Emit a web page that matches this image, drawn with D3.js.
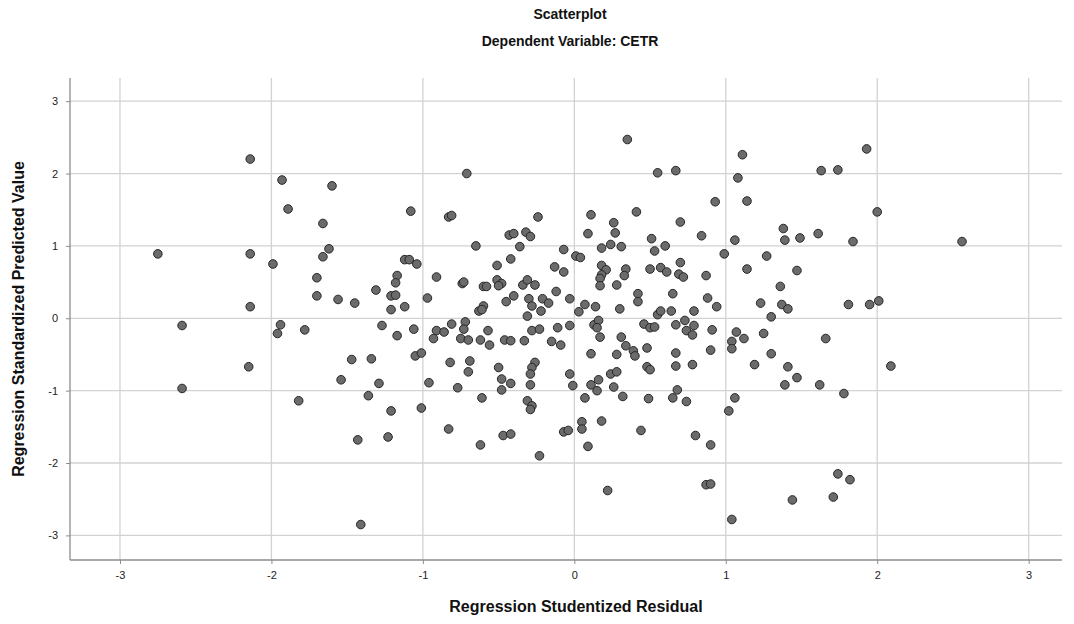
<!DOCTYPE html>
<html>
<head>
<meta charset="utf-8">
<script src="https://cdn.jsdelivr.net/npm/d3@7"></script>
<style>
  html, body { margin: 0; padding: 0; background: #ffffff; }
  svg { display: block; font-family: "Liberation Sans", Arial, sans-serif; }
</style>
</head>
<body>
<svg id="chart" width="1074" height="624"></svg>
<script>
// ---- Data ----
const chartTitle = "Scatterplot";
const chartSubtitle = "Dependent Variable: CETR";
const xAxisTitle = "Regression Studentized Residual";
const yAxisTitle = "Regression Standardized Predicted Value";
const xTicks = [-3, -2, -1, 0, 1, 2, 3];
const yTicks = [-3, -2, -1, 0, 1, 2, 3];

// Studentized residuals (x)
const residuals = [
  -2.14,-1.93,-1.89,-1.60,-1.66,-1.08,-0.83,-0.81,-0.71,-0.24,
  -0.43,-0.40,-0.32,-0.29, 0.35, 0.55, 0.67, 1.11, 1.08, 1.14,
   0.93, 0.11, 0.26, 0.27, 0.09, 0.41, 0.70, 0.51, 0.84, 1.06,
   1.38, 1.39, 1.49, 1.61, 1.93, 1.63, 1.74, 2.00, 1.84, 2.56,
  -2.75,-2.14,-1.99,-1.70,-1.70,-2.14,-2.59,-1.94,-1.96,-1.78,
  -2.15,-2.59,-1.82,-1.62,-1.66,-1.12,-1.09,-1.04,-1.17,-1.18,
  -1.31,-1.21,-1.18,-1.56,-1.45,-1.21,-1.12,-0.91,-0.97,-1.27,
  -1.17,-1.06,-1.05,-1.01,-1.47,-1.34,-1.54,-1.29,-1.36,-0.96,
  -0.77,-0.61,-0.65,-0.36,-0.42,-0.51,-0.74,-0.73,-0.60,-0.58,
  -0.51,-0.48,-0.50,-0.34,-0.31,-0.26,-0.13,-0.07,-0.07,-0.12,
  -0.03,-0.40,-0.45,-0.30,-0.28,-0.22,-0.21,-0.17,-0.31,-0.60,
  -0.63,-0.61,-0.81,-0.72,-0.73,-0.91,-0.86,-0.93,-0.75,-0.70,
  -0.62,-0.57,-0.56,-0.46,-0.42,-0.33,-0.28,-0.23,-0.11,-0.03,
  -0.15,-0.09,-0.82,-0.69,-0.70,-0.50,-0.48,-0.42,-0.48,-0.26,
  -0.28,-0.29,-0.29,-0.03,-0.31,
   0.18, 0.24, 0.31, 0.53, 0.60, 0.01, 0.04, 0.99, 1.27, 0.18,
   0.21, 0.18, 0.17, 0.17, 0.34, 0.33, 0.28, 0.50, 0.57, 0.61,
   0.70, 0.69, 0.72, 0.87, 1.14, 1.47, 1.36, 0.07, 0.03, 0.14,
   0.30, 0.42, 0.42, 0.65, 0.55, 0.57, 0.64, 0.79, 0.88, 0.94,
   1.23, 1.37, 1.41, 1.30, 0.13, 0.16, 0.15, 0.17, 0.46, 0.50,
   0.53, 0.67, 0.73, 0.79, 0.74, 0.78, 0.91, 1.07, 1.04, 1.04,
   1.12, 1.25, 0.31, 0.34, 0.39, 0.40, 0.11, 0.28, 0.48, 0.67,
   0.90, 1.30, 0.48, 0.50, 0.67, 0.78, 1.19, 1.41, 0.24, 0.28,
   0.16, 0.11, 0.15, 0.26,-0.01, 0.68, 1.39, 1.47, 1.62, 0.07,
   0.32, 0.49, 0.65, 0.74, 1.06,
   1.81, 1.95, 2.01, 1.66, 2.09, 1.78,
  -1.21,-1.01,-1.43,-1.23,-0.83,-0.62,-0.47,-0.42,-0.23,-0.28,
  -0.29,-0.07,-0.04,-1.41,
   0.05, 0.05, 0.18, 0.09, 0.44, 0.80, 0.90, 1.02, 0.22, 0.87,
   0.90, 1.04, 1.44, 1.74, 1.82, 1.71
];

// Standardized predicted values (y)
const predicted = [
   2.20, 1.91, 1.51, 1.83, 1.31, 1.48, 1.40, 1.42, 2.00, 1.40,
   1.15, 1.17, 1.19, 1.13, 2.47, 2.01, 2.04, 2.26, 1.94, 1.62,
   1.61, 1.43, 1.32, 1.18, 1.17, 1.47, 1.33, 1.10, 1.14, 1.08,
   1.24, 1.08, 1.11, 1.17, 2.34, 2.04, 2.05, 1.47, 1.06, 1.06,
   0.89, 0.89, 0.75, 0.56, 0.31, 0.16,-0.10,-0.09,-0.21,-0.16,
  -0.67,-0.97,-1.14, 0.96, 0.85, 0.81, 0.81, 0.75, 0.59, 0.49,
   0.39, 0.31, 0.32, 0.26, 0.21, 0.12, 0.16, 0.57, 0.28,-0.10,
  -0.24,-0.15,-0.52,-0.48,-0.57,-0.56,-0.85,-0.90,-1.07,-0.89,
  -0.96,-1.10, 1.00, 0.99, 0.82, 0.73, 0.48, 0.50, 0.44, 0.44,
   0.53, 0.48, 0.45, 0.46, 0.53, 0.46, 0.71, 0.64, 0.95, 0.37,
   0.27, 0.31, 0.23, 0.27, 0.17, 0.10, 0.27, 0.21, 0.03, 0.17,
   0.10, 0.12,-0.08,-0.05,-0.15,-0.17,-0.19,-0.28,-0.28,-0.30,
  -0.30,-0.17,-0.37,-0.30,-0.31,-0.31,-0.17,-0.15,-0.13,-0.10,
  -0.32,-0.37,-0.61,-0.59,-0.74,-0.68,-0.84,-0.90,-0.99,-0.61,
  -0.68,-0.77,-0.92,-0.77,-1.14,
   0.97, 1.02, 0.99, 0.93, 1.00, 0.86, 0.84, 0.89, 0.86, 0.73,
   0.67, 0.60, 0.55, 0.45, 0.68, 0.59, 0.46, 0.68, 0.70, 0.64,
   0.77, 0.61, 0.57, 0.59, 0.68, 0.66, 0.44, 0.19, 0.09, 0.16,
   0.13, 0.34, 0.23, 0.34, 0.05, 0.10, 0.10, 0.10, 0.28, 0.16,
   0.21, 0.19, 0.13, 0.02,-0.09,-0.03,-0.13,-0.26,-0.08,-0.13,
  -0.12,-0.09,-0.03,-0.10,-0.17,-0.23,-0.16,-0.19,-0.32,-0.42,
  -0.28,-0.21,-0.26,-0.38,-0.45,-0.52,-0.49,-0.50,-0.41,-0.48,
  -0.44,-0.49,-0.67,-0.71,-0.66,-0.64,-0.64,-0.67,-0.77,-0.74,
  -0.85,-0.92,-1.00,-0.95,-0.93,-0.99,-0.92,-0.82,-0.92,-1.10,
  -1.08,-1.11,-1.10,-1.15,-1.10,
   0.19, 0.19, 0.24,-0.28,-0.66,-1.04,
  -1.28,-1.24,-1.68,-1.64,-1.53,-1.75,-1.62,-1.60,-1.90,-1.21,
  -1.26,-1.57,-1.55,-2.85,
  -1.43,-1.53,-1.42,-1.77,-1.55,-1.62,-1.75,-1.28,-2.38,-2.30,
  -2.29,-2.78,-2.51,-2.15,-2.23,-2.47
];

const points = residuals.map((x, i) => ({ x: x, y: predicted[i] }));

// ---- Layout ----
const svg = d3.select("#chart");
const plot = { left: 70, right: 1062, top: 78, bottom: 560 };

const x = d3.scaleLinear().domain([-3.33, 3.22]).range([plot.left, plot.right]);
const y = d3.scaleLinear().domain([-3.34, 3.32]).range([plot.bottom, plot.top]);

// gridlines
const grid = svg.append("g");
grid.selectAll("line.vx").data(xTicks).enter().append("line")
  .attr("x1", d => x(d)).attr("x2", d => x(d))
  .attr("y1", plot.top).attr("y2", plot.bottom)
  .attr("stroke", "#d2d2d2").attr("stroke-width", 1.3);
grid.selectAll("line.hy").data(yTicks).enter().append("line")
  .attr("x1", plot.left).attr("x2", plot.right)
  .attr("y1", d => y(d)).attr("y2", d => y(d))
  .attr("stroke", "#d2d2d2").attr("stroke-width", 1.3);

// axes (hyphen-minus labels as in the reference)
const fmt = d => String(d);
const xAxis = d3.axisBottom(x).tickValues(xTicks).tickSize(4).tickPadding(7).tickFormat(fmt);
const yAxis = d3.axisLeft(y).tickValues(yTicks).tickSize(4).tickPadding(8).tickFormat(fmt);

const gx = svg.append("g").attr("transform", `translate(0,${plot.bottom})`).call(xAxis);
const gy = svg.append("g").attr("transform", `translate(${plot.left},0)`).call(yAxis);
[gx, gy].forEach(g => {
  g.select(".domain").attr("stroke", "#8c8c8c").attr("stroke-width", 1.3);
  g.selectAll(".tick line").attr("stroke", "#8c8c8c");
  g.selectAll(".tick text").attr("fill", "#222").style("font-size", "11px")
    .style("font-family", "'Liberation Sans', Arial, sans-serif");
});
gx.select(".domain").attr("d", `M${plot.left},0H${plot.right}`);
gy.select(".domain").attr("d", `M0,${plot.top}V${plot.bottom}`);

// points
svg.append("g").selectAll("circle").data(points).enter().append("circle")
  .attr("cx", d => x(d.x)).attr("cy", d => y(d.y)).attr("r", 4.3)
  .attr("fill", "#6b6b6b").attr("stroke", "#262626").attr("stroke-width", 1);

// titles
svg.append("text").attr("x", 570).attr("y", 19).attr("text-anchor", "middle")
  .style("font-size", "14px").style("font-weight", "bold").attr("fill", "#111").text(chartTitle);
svg.append("text").attr("x", 570).attr("y", 46).attr("text-anchor", "middle")
  .style("font-size", "14px").style("font-weight", "bold").attr("fill", "#111").text(chartSubtitle);
svg.append("text").attr("x", 576).attr("y", 612).attr("text-anchor", "middle")
  .style("font-size", "16px").style("font-weight", "bold").attr("fill", "#111").text(xAxisTitle);
svg.append("text").attr("transform", `translate(24,${(plot.top + plot.bottom) / 2}) rotate(-90)`)
  .attr("text-anchor", "middle")
  .style("font-size", "16px").style("font-weight", "bold").attr("fill", "#111").text(yAxisTitle);
</script>
</body>
</html>
